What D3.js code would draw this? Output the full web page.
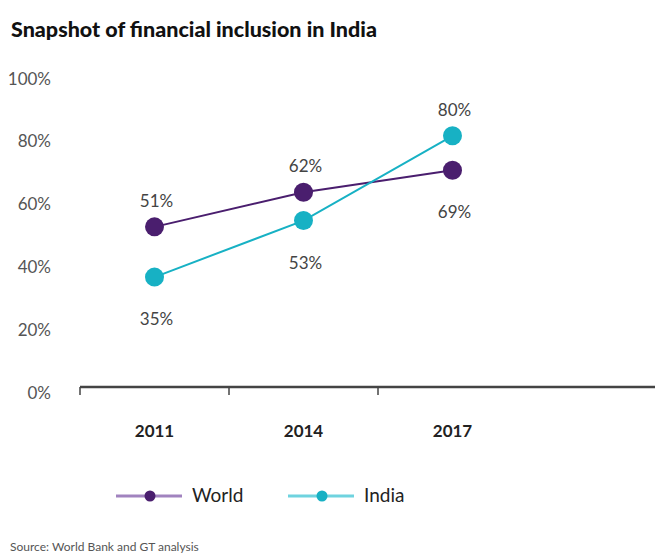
<!DOCTYPE html>
<html>
<head>
<meta charset="utf-8">
<script src="https://cdn.jsdelivr.net/npm/d3@7"></script>
<style>
  body { margin: 0; background: #fff; }
  svg { font-family: Lato, "Open Sans", sans-serif; }
  .axis path, .axis line { stroke: #333; }
</style>
</head>
<body>
<div id="chart"></div>
<script>
// Dados
const years = ["2011", "2014", "2017"];
const worldValues = [51, 62, 69];
const indiaValues = [35, 53, 80];
const yTicks = [0, 20, 40, 60, 80, 100];

const series = [
    { name: "World", values: worldValues, color: "#4a1e6e", legendColor: "#a183bf" },
    { name: "India", values: indiaValues, color: "#17b1c4", legendColor: "#6fd3df" }
];

const W = 655, H = 556;
const svg = d3.select("#chart").append("svg")
    .attr("width", W)
    .attr("height", H);

// Título
svg.append("text")
    .attr("x", 11)
    .attr("y", 37)
    .attr("font-size", "21.5px")
    .attr("font-weight", 900)
    .attr("fill", "#111")
    .text("Snapshot of financial inclusion in India");

// Escalas
const x = d3.scaleBand()
    .domain(years)
    .range([80, 527]);

const y = d3.scaleLinear()
    .domain([0, 100])
    .range([387, 73]);

// Eixo Y (só labels)
const yAxis = svg.append("g")
    .attr("class", "axis")
    .attr("transform", "translate(51,0)")
    .call(d3.axisLeft(y).tickValues(yTicks).tickSize(0).tickFormat(d => d + "%"));
yAxis.select(".domain").remove();
yAxis.selectAll("text")
    .attr("font-size", "17px")
    .attr("fill", "#555")
    .attr("dy", "0.65em")
    .attr("x", 0)
    .attr("font-family", "Lato, sans-serif");

// Eixo X
svg.append("line")
    .attr("x1", 80).attr("x2", W)
    .attr("y1", y(0)).attr("y2", y(0))
    .attr("stroke", "#444")
    .attr("stroke-width", 2.5);

svg.selectAll(".xtick")
    .data(years)
    .enter()
    .append("line")
    .attr("class", "xtick")
    .attr("x1", d => x(d)).attr("x2", d => x(d))
    .attr("y1", y(0)).attr("y2", y(0) + 8)
    .attr("stroke", "#444")
    .attr("stroke-width", 1.5);

svg.selectAll(".xlabel")
    .data(years)
    .enter()
    .append("text")
    .attr("class", "xlabel")
    .attr("x", d => x(d) + x.bandwidth() / 2)
    .attr("y", 437)
    .attr("text-anchor", "middle")
    .attr("font-size", "17px")
    .attr("font-weight", "bold")
    .attr("fill", "#222")
    .text(d => d);

const cx = d => x(d) + x.bandwidth() / 2;

const line = d3.line()
    .x((d, i) => cx(years[i]))
    .y(d => y(d));

// Linhas e pontos
series.forEach((s, si) => {
    const other = series[1 - si];
    svg.append("path")
        .datum(s.values)
        .attr("d", line)
        .attr("fill", "none")
        .attr("stroke", s.color)
        .attr("stroke-width", 2);

    svg.selectAll(".dot-" + si)
        .data(s.values)
        .enter()
        .append("circle")
        .attr("cx", (d, i) => cx(years[i]))
        .attr("cy", d => y(d))
        .attr("r", 9.5)
        .attr("fill", s.color);

    // Labels: acima se a série é a mais alta naquele ano
    svg.selectAll(".lab-" + si)
        .data(s.values)
        .enter()
        .append("text")
        .attr("x", (d, i) => cx(years[i]) + 2)
        .attr("y", (d, i) => d > other.values[i] ? y(d) - 20 : y(d) + 48)
        .attr("text-anchor", "middle")
        .attr("font-size", "17px")
        .attr("fill", "#444")
        .text(d => d + "%");
});

// Legenda
const legend = svg.selectAll(".legend")
    .data(series)
    .enter()
    .append("g")
    .attr("class", "legend")
    .attr("transform", (d, i) => `translate(${116 + i * 172},496)`);

legend.append("line")
    .attr("x1", 0).attr("x2", 66)
    .attr("stroke", d => d.legendColor)
    .attr("stroke-width", 3);

legend.append("circle")
    .attr("cx", 34)
    .attr("r", 5.5)
    .attr("fill", d => d.color);

legend.append("text")
    .attr("x", 76)
    .attr("y", 6)
    .attr("font-size", "19px")
    .attr("fill", "#222")
    .text(d => d.name);

// Fonte
svg.append("text")
    .attr("x", 10)
    .attr("y", 551)
    .attr("font-size", "12px")
    .attr("fill", "#555")
    .text("Source: World Bank and GT analysis");
</script>
</body>
</html>
